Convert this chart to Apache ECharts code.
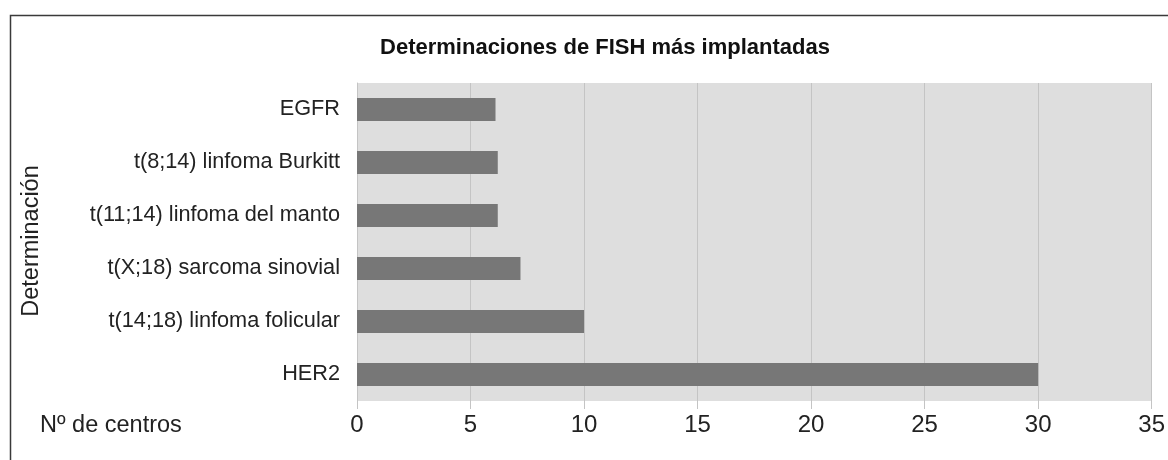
<!DOCTYPE html>
<html>
<head>
<meta charset="utf-8">
<script src="https://cdn.jsdelivr.net/npm/echarts@6/dist/echarts.min.js"></script>
<style>
  html, body { margin: 0; padding: 0; background: #fff; }
  #chart { width: 1168px; height: 460px; }
</style>
</head>
<body>
<div id="chart"></div>
<script>
// categories from bottom to top (category axis starts at the bottom)
var categories = ['HER2', 't(14;18) linfoma folicular', 't(X;18) sarcoma sinovial',
    't(11;14) linfoma del manto', 't(8;14) linfoma Burkitt', 'EGFR'];
var centros = [30, 10, 7.2, 6.2, 6.2, 6.1];
var xTicks = [0, 5, 10, 15, 20, 25, 30, 35];

var font = 'Liberation Sans, Arial, sans-serif';
var myChart = echarts.init(document.getElementById('chart'));
myChart.setOption({
    animation: false,
    title: {
        text: 'Determinaciones de FISH más implantadas',
        left: 600,
        top: 32,
        textAlign: 'center',
        textStyle: {fontFamily: font, fontSize: 22, fontWeight: 'bold', color: '#111'}
    },
    graphic: [
        {
            type: 'rect',
            shape: {x: 10.5, y: 15.5, width: 1200, height: 500},
            style: {fill: 'none', stroke: '#3a3a3a', lineWidth: 1.5},
            silent: true
        },
        {
            type: 'text',
            x: 32, y: 241,
            rotation: Math.PI / 2,
            style: {text: 'Determinación', fontFamily: font, fontSize: 23.5, fill: '#222',
                align: 'center', verticalAlign: 'middle'}
        },
        {
            type: 'text',
            x: 40, y: 426,
            style: {text: 'Nº de centros', fontFamily: font, fontSize: 23.5, fill: '#222',
                align: 'left', verticalAlign: 'middle'}
        }
    ],
    grid: {
        left: 357,
        right: 16,
        top: 83,
        bottom: 59,
        show: true,
        backgroundColor: '#dedede',
        borderWidth: 0
    },
    xAxis: {
        type: 'value',
        min: xTicks[0],
        max: xTicks[xTicks.length - 1],
        interval: 5,
        axisLine: {show: false},
        axisTick: {show: true, length: 8, lineStyle: {color: '#c4c4c4'}},
        splitLine: {show: true, lineStyle: {color: '#c4c4c4', width: 1}},
        axisLabel: {fontFamily: font, fontSize: 24, color: '#222', margin: 12}
    },
    yAxis: {
        type: 'category',
        data: categories,
        axisLine: {show: true, lineStyle: {color: '#c4c4c4', width: 1}},
        axisTick: {show: false},
        axisLabel: {fontFamily: font, fontSize: 21.7, color: '#222', margin: 17}
    },
    series: [{
        type: 'bar',
        data: centros,
        barWidth: 23,
        itemStyle: {color: '#777777'}
    }]
});
</script>
</body>
</html>
